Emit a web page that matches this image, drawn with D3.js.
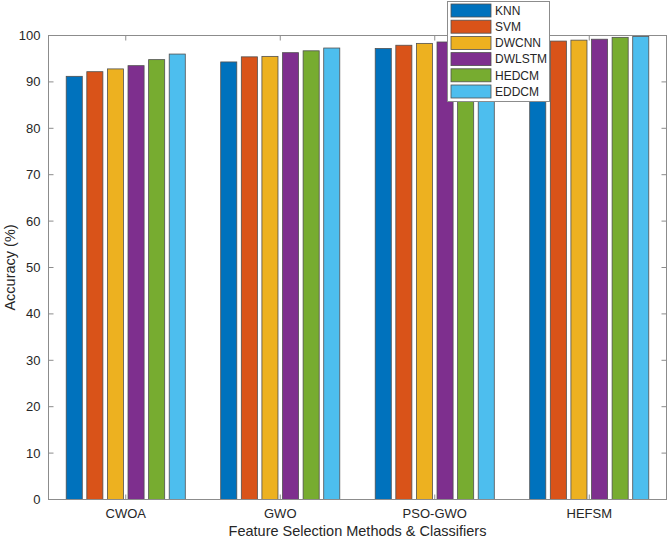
<!DOCTYPE html>
<html><head><meta charset="utf-8">
<script src="https://cdn.jsdelivr.net/npm/d3@7"></script>
<style>body{margin:0;background:#fff}svg{display:block}text{font-family:"Liberation Sans",Arial,sans-serif}</style>
</head><body><svg id="c" width="669" height="539"></svg>
<script>
const categories = ["CWOA", "GWO", "PSO-GWO", "HEFSM"];
const seriesNames = ["KNN", "SVM", "DWCNN", "DWLSTM", "HEDCM", "EDDCM"];
const KNN    = [91.2, 94.3, 97.2, 98.4];
const SVM    = [92.2, 95.4, 97.9, 98.8];
const DWCNN  = [92.8, 95.5, 98.3, 99.0];
const DWLSTM = [93.5, 96.3, 98.6, 99.2];
const HEDCM  = [94.8, 96.7, 99.0, 99.6];
const EDDCM  = [96.0, 97.3, 99.3, 99.8];
const yTicks = [0,10,20,30,40,50,60,70,80,90,100];
const colors = ["#0072BD","#D95319","#EDB120","#7E2F8E","#77AC30","#4DBEEE"];
const series = [KNN, SVM, DWCNN, DWLSTM, HEDCM, EDDCM];

const svg = d3.select("#c");
const L = 48.5, R = 666.5, T = 35.5, B = 499.5;
const x = d3.scaleLinear().domain([0.5, 4.5]).range([L, R]);
const y = d3.scaleLinear().domain([0, 100]).range([B, T]);
const axisCol = "#8c8c8c", textCol = "#262626";

const groupW = 0.8, step = groupW / 6, barW = step * 0.78;
const g = svg.append("g");
series.forEach((s, si) => {
  g.selectAll(null).data(s).enter().append("rect")
    .attr("x", (d, i) => x(i + 1 - groupW/2 + step*(si + 0.5) - barW/2))
    .attr("width", x(barW) - x(0))
    .attr("y", d => y(d))
    .attr("height", d => y(0) - y(d))
    .attr("fill", colors[si])
    .attr("stroke", "#505050").attr("stroke-width", 0.8);
});

// axes box
const tl = 5;
const ax = svg.append("g").attr("stroke", axisCol).attr("fill","none").attr("stroke-width",1);
ax.append("rect").attr("x", L).attr("y", T).attr("width", R-L).attr("height", B-T);
yTicks.forEach(t => {
  ax.append("line").attr("x1", L).attr("x2", L+tl).attr("y1", y(t)).attr("y2", y(t));
  ax.append("line").attr("x1", R).attr("x2", R-tl).attr("y1", y(t)).attr("y2", y(t));
});
categories.forEach((c, i) => {
  ax.append("line").attr("x1", x(i+1)).attr("x2", x(i+1)).attr("y1", B).attr("y2", B-tl);
  ax.append("line").attr("x1", x(i+1)).attr("x2", x(i+1)).attr("y1", T).attr("y2", T+tl);
});

// tick labels
svg.append("g").selectAll("text").data(yTicks).enter().append("text")
  .attr("x", L - 8).attr("y", d => y(d)).attr("dy", "0.35em")
  .attr("text-anchor", "end").attr("font-size", 13).attr("fill", textCol).text(d => d);
svg.append("g").selectAll("text").data(categories).enter().append("text")
  .attr("x", (d, i) => x(i+1)).attr("y", B + 18)
  .attr("text-anchor", "middle").attr("font-size", 13).attr("fill", textCol).text(d => d);

svg.append("text").attr("x", (L+R)/2).attr("y", 535.5).attr("text-anchor","middle")
  .attr("font-size", 14.5).attr("fill", textCol).text("Feature Selection Methods & Classifiers");
svg.append("text").attr("transform", `translate(15,${(T+B)/2}) rotate(-90)`)
  .attr("text-anchor","middle").attr("font-size", 14.5).attr("fill", textCol).text("Accuracy (%)");

// legend
const lg = svg.append("g");
lg.append("rect").attr("x", 447.5).attr("y", 1.5).attr("width", 102).attr("height", 100)
  .attr("fill", "#fff").attr("stroke", axisCol);
seriesNames.forEach((n, i) => {
  const cy = 10.5 + i * 16.2;
  lg.append("rect").attr("x", 451).attr("y", cy - 6.5).attr("width", 40).attr("height", 13)
    .attr("fill", colors[i]).attr("stroke", "#505050").attr("stroke-width", 0.8);
  lg.append("text").attr("x", 495).attr("y", cy).attr("dy", "0.35em")
    .attr("font-size", 12).attr("fill", textCol).text(n);
});
</script></body></html>
